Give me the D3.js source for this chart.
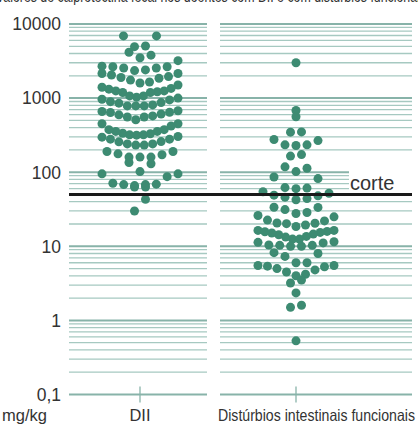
<!DOCTYPE html>
<html>
<head>
<meta charset="utf-8">
<script src="https://cdn.jsdelivr.net/npm/d3@7"></script>
<style>
  html, body { margin: 0; padding: 0; background: #fff; }
  svg { display: block; }
  text { font-family: "Liberation Sans", Arial, sans-serif; fill: #333; }
</style>
</head>
<body>
<div id="chart"></div>
<script>
// values in mg/kg
var groups = ["DII", "Distúrbios intestinais funcionais"];

var diiValues = [
  6900, 6900, 4950, 5050, 3800, 3500, 4150,
  2700, 2650, 2550, 2350, 2400, 2550, 2650, 3200,
  2150, 2050, 1900, 1750, 1650, 1850, 1950, 2150,
  1500, 1350, 1250, 1220, 1190, 1190, 1250, 1320, 1400, 1600,
  1070, 1000, 945, 870, 810, 785, 785, 785, 855, 895, 965, 1030, 1070,
  660, 645, 595, 555, 510, 555, 575, 610, 640, 675,
  450, 450, 420,
  375, 355, 335, 330, 355, 375,
  316, 297, 279, 259, 241, 232, 232, 241, 257, 279, 303, 319, 319,
  190, 177, 160, 160, 135, 130, 160, 172, 190,
  102, 95, 95, 87,
  69, 68, 63, 63, 66, 68, 71,
  43, 30
];

var funcValues = [
  3000,
  680, 560,
  347, 350,
  234, 267, 276, 229, 234,
  173, 165,
  118, 102, 113,
  82, 86,
  62, 61, 52, 48, 44, 42.5, 46, 49, 54.5, 60,
  33.5, 28.6, 26, 27.7, 31.3, 33.6,
  25, 22, 20.5, 18.5, 19.4, 20.2, 20.6, 22.6,
  16.4, 15.9, 15.4, 14.6, 13.6, 12.5, 11.5, 12.5, 13.3, 14.3, 15.1, 15.7, 16.4,
  11.1, 10.3, 10, 8.2, 8.0, 10, 10.3, 10.4, 11.3,
  7.3,
  6.0, 5.0, 4.5, 5.5, 5.3, 5.4, 5.5, 4.8, 6.0,
  4.0, 4.2,
  3.5, 3.2,
  2.35,
  1.6, 1.5,
  0.53
];

var cutoff = 50;
var cutoffLabel = "corte";
var unitLabel = "mg/kg";
var title = "Valores de calprotectina fecal nos doentes com DII e com distúrbios funcionais";

var width = 418, height = 426;
var r = 4.5;
var rowH = 12.6, maxStep = 11, maxSpread = 76;

var svg = d3.select("#chart").append("svg")
    .attr("width", width)
    .attr("height", height);

var y = d3.scaleLog().domain([0.1, 10000]).range([394.5, 24]);
var x = d3.scalePoint().domain(groups).range([140, 296]);

// the two grid panels
var panels = [
  { group: groups[0], x0: 69, x1: 207 },
  { group: groups[1], x0: 220, x1: 412 }
];

var fmt = d3.formatLocale({ decimal: ",", thousands: "", grouping: [3], currency: ["", ""] }).format("~g");
var ticks = y.ticks();
function isMajor(t) { return Math.abs(Math.log10(t) - Math.round(Math.log10(t))) < 1e-9; }

// title, mostly cut off at the top
svg.append("text")
    .attr("x", -4)
    .attr("y", 1.5)
    .attr("font-size", 17)
    .attr("textLength", 430)
    .attr("lengthAdjust", "spacingAndGlyphs")
    .text(title);

panels.forEach(function(p) {
  svg.append("g").selectAll("line")
    .data(ticks)
    .enter().append("line")
      .attr("x1", p.x0)
      .attr("x2", p.x1)
      .attr("y1", function(d) { return y(d); })
      .attr("y2", function(d) { return y(d); })
      .attr("stroke", function(d) { return isMajor(d) ? "#88b3a9" : "#a6c9c1"; })
      .attr("stroke-width", function(d) { return isMajor(d) ? 2 : 1.3; });
});

// group ticks at the bottom
svg.append("g").selectAll("line")
  .data(groups)
  .enter().append("line")
    .attr("x1", function(d) { return x(d); })
    .attr("x2", function(d) { return x(d); })
    .attr("y1", y(0.1) - 8)
    .attr("y2", y(0.1) + 8)
    .attr("stroke", "#88b3a9")
    .attr("stroke-width", 1.3);

// y labels
svg.append("g").selectAll("text")
  .data(ticks.filter(isMajor))
  .enter().append("text")
    .attr("x", 61)
    .attr("y", function(d) { return y(d); })
    .attr("dy", "0.36em")
    .attr("text-anchor", "end")
    .attr("font-size", 17.5)
    .text(fmt);

// category labels
svg.append("text")
    .attr("x", x(groups[0]))
    .attr("y", 421)
    .attr("text-anchor", "middle")
    .attr("font-size", 16.5)
    .attr("textLength", 21)
    .attr("lengthAdjust", "spacingAndGlyphs")
    .text(groups[0]);

svg.append("text")
    .attr("x", 218)
    .attr("y", 421)
    .attr("font-size", 16.5)
    .attr("textLength", 197)
    .attr("lengthAdjust", "spacingAndGlyphs")
    .text(groups[1]);

svg.append("text")
    .attr("x", 2)
    .attr("y", 421)
    .attr("font-size", 16.5)
    .text(unitLabel);

// white box behind the cutoff label
svg.append("rect")
    .attr("x", 349)
    .attr("y", y(cutoff) - 24)
    .attr("width", width - 349)
    .attr("height", 22)
    .attr("fill", "#fff");

// "smiley" layout: dots are binned into rows from the lowest value up,
// each row is spread evenly with the lowest values in the middle
function smiley(values) {
  var pts = values.map(function(v) { return { v: v, y: y(v) }; });
  var base = d3.max(pts, function(p) { return p.y; });
  var rows = d3.groups(pts, function(p) { return Math.floor((base - p.y) / rowH + 1e-6); });
  rows.forEach(function(row) {
    var list = row[1].sort(function(a, b) { return a.v - b.v; });
    var m = list.length;
    var step = m > 1 ? Math.min(maxStep, maxSpread / (m - 1)) : 0;
    list.forEach(function(p, i) {
      // i = 0 in the middle, then right, left, right ...
      var k = Math.ceil(i / 2) * (i % 2 ? 1 : -1);
      var slot = (m % 2) ? k : (i % 2 ? Math.ceil(i / 2) - 0.5 : -(i / 2 + 0.5));
      if (m % 2 === 0 && i === 0) slot = -0.5;
      p.dx = slot * step;
    });
  });
  return pts;
}

var series = [diiValues, funcValues];
series.forEach(function(vals, i) {
  svg.append("g").selectAll("circle")
    .data(smiley(vals))
    .enter().append("circle")
      .attr("cx", function(d) { return x(groups[i]) + d.dx; })
      .attr("cy", function(d) { return d.y; })
      .attr("r", r)
      .attr("fill", "#3d8b72");
});

// cutoff line
svg.append("line")
    .attr("x1", 69)
    .attr("x2", 412)
    .attr("y1", y(cutoff))
    .attr("y2", y(cutoff))
    .attr("stroke", "#1a1a1a")
    .attr("stroke-width", 3);

svg.append("text")
    .attr("x", 350)
    .attr("y", y(cutoff) - 5)
    .attr("font-size", 20)
    .attr("fill", "#1a1a1a")
    .text(cutoffLabel);
</script>
</body>
</html>
